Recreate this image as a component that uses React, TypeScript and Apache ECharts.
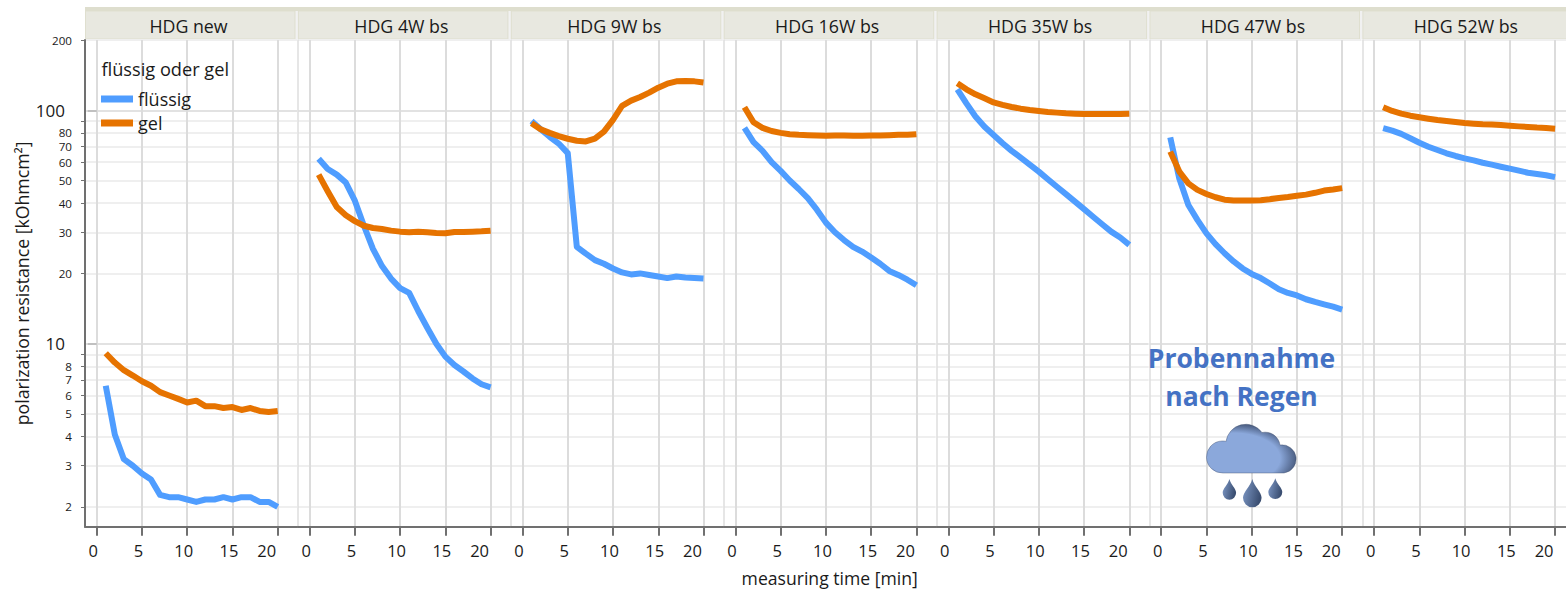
import React, { useEffect, useRef } from "react";
import * as echarts from "echarts";

const panelNames = ["HDG new", "HDG 4W bs", "HDG 9W bs", "HDG 16W bs", "HDG 35W bs", "HDG 47W bs", "HDG 52W bs"];
const times = [1,2,3,4,5,6,7,8,9,10,11,12,13,14,15,16,17,18,19,20];

const liquid0 = [6.6,4.08,3.2,3.0,2.78,2.62,2.25,2.2,2.2,2.15,2.1,2.15,2.15,2.2,2.15,2.2,2.2,2.1,2.1,2.0];
const liquid1 = [62,56,53,49,41,32,25.5,21.5,19,17.3,16.5,13.8,11.7,10,8.8,8.1,7.6,7.1,6.7,6.5];
const liquid2 = [90,83,77,72,65.5,26,24.3,22.8,22,21,20.2,19.8,20,19.7,19.4,19.1,19.4,19.2,19.1,19];
const liquid3 = [84,73,67,60,55,50,46,42,37.5,33,30,27.8,26,24.8,23.4,22,20.5,19.7,18.8,17.8];
const liquid4 = [123,107,94,85,78.3,72.2,67,62.7,58.5,54.6,50.6,47,43.7,40.6,37.7,35,32.5,30.2,28.5,26.5];
const liquid5 = [76.6,51,39.3,33.9,29.7,26.7,24.4,22.5,21,19.9,19.1,18.1,17.1,16.5,16.1,15.5,15.1,14.75,14.4,14];
const liquid6 = [83.8,81.8,79.2,75.9,72.6,69.8,67.6,65.4,63.7,62.2,61,59.6,58.5,57.3,56.2,55.1,54,53.3,52.7,51.7];

const gel0 = [9.1,8.3,7.7,7.3,6.9,6.6,6.2,6.0,5.8,5.6,5.7,5.4,5.4,5.3,5.35,5.2,5.3,5.15,5.1,5.15];
const gel1 = [53,45,38.5,35.5,33.5,32,31.3,31,30.5,30.2,30,30.2,30,29.8,29.7,30.1,30.1,30.2,30.3,30.5];
const gel2 = [88,83,80,77.5,75.5,74,73.5,75.6,81,91,104.4,110,114,119,125,130,133,133.5,133,131.5];
const gel3 = [103,88.8,84,81.5,80,79,78.5,78.2,78,77.8,78,78,77.8,77.8,78,78,78.2,78.5,78.5,79];
const gel4 = [130.5,123,117,112.5,108,105.4,103.3,101.6,100.3,99.3,98.3,97.7,97.1,96.7,96.4,96.3,96.3,96.3,96.5,96.7];
const gel5 = [66.5,54.6,48.6,45.6,43.8,42.4,41.4,41.1,41.1,41.1,41.2,41.6,42.1,42.5,43,43.5,44.3,45.3,45.8,46.4];
const gel6 = [103,99.3,96.8,94.8,93.4,92,90.8,89.9,89.1,88.2,87.6,87.1,86.8,86.5,85.9,85.3,84.8,84.3,84,83.4];

const liquidSets = [liquid0, liquid1, liquid2, liquid3, liquid4, liquid5, liquid6];
const gelSets = [gel0, gel1, gel2, gel3, gel4, gel5, gel6];

const smallTicks = [2,3,4,5,6,7,8,9,20,30,40,50,60,70,80,90,200];
const smallLabels = [2,3,4,5,6,7,8,20,30,40,50,60,70,80,200];
const bigTicks = [10,100];
const xTicks = [0,5,10,15,20];

const FONT = "Open Sans";
const BLUE = "#4F9DFF";
const ORANGE = "#E67300";
const INK = "#1A1A1A";

const STEP = 212.9;
const LEFT0 = 85;
const PX_PER_MIN = 9.05;
const PANEL_W = 212;
const GRID_TOP = 40;
const GRID_BOTTOM_Y = 526.7;
const Y_MIN = 1.644;
const Y_MAX = 200;
const X_MIN = -11.7 / PX_PER_MIN;
const X_MAX = (PANEL_W - 11.7) / PX_PER_MIN;

const CLOUD = "M16 50 A16 16 0 0 1 15 18 C17 18 18 18 19 18.5 A20 20 0 0 1 55 9.5 A15 15 0 0 1 73 22 A14 14 0 0 1 77 50 Z";
const DROP = "M10 0 C12 8 20 14 20 20 A10 10 0 0 1 0 20 C0 14 8 8 10 0 Z";

export default function App() {
  const ref = useRef<HTMLDivElement>(null);
  useEffect(() => {
    document.body.style.margin = "0";
    echarts.graphic.registerShape("cloud", echarts.graphic.extendPath(CLOUD, {}) as any);
    echarts.graphic.registerShape("drop", echarts.graphic.extendPath(DROP, {}) as any);
    const chart = echarts.init(ref.current!, undefined, { renderer: "svg" });
    const grids: any[] = [];
    const xAxes: any[] = [];
    const yAxes: any[] = [];
    const series: any[] = [];
    const graphics: any[] = [
      { type: "rect", shape: { x: LEFT0, y: 11, width: 1481, height: 28 }, style: { fill: "#F1F1F1" }, silent: true },
      { type: "rect", shape: { x: LEFT0, y: 7, width: 1481, height: 4 }, style: { fill: "#DEDECE" }, silent: true },
    ];

    panelNames.forEach((name, i) => {
      const left = LEFT0 + STEP * i;
      grids.push({ left, top: GRID_TOP, width: PANEL_W, height: GRID_BOTTOM_Y - GRID_TOP, outerBoundsMode: "none" });
      graphics.push({
        type: "rect",
        shape: { x: left + 0.5, y: 11, width: 209.5, height: 28 },
        style: { fill: "#E8E8E0", stroke: "#DFDFCF", lineWidth: 1 },
        silent: true,
      });
      graphics.push({
        type: "text",
        x: left + 103.5,
        y: 26,
        style: { text: name, fill: INK, font: `17.8px '${FONT}'`, textAlign: "center", textVerticalAlign: "middle" },
        silent: true,
      });
      const gridIndex = i;
      xAxes.push({
        type: "value",
        gridIndex,
        min: X_MIN,
        max: X_MAX,
        axisLine: { onZero: false, lineStyle: { color: "#707070", width: 2 } },
        axisTick: { customValues: xTicks, length: 9, lineStyle: { color: "#707070", width: 2 } },
        axisLabel: {
          customValues: xTicks,
          margin: 15,
          hideOverlap: false,
          formatter: (v: number) => (v === 20 ? `{far|${v}}` : `{near|${v}}`),
          rich: {
            far: { fontFamily: FONT, fontSize: 16.5, color: INK, padding: [0, 22, 0, 0] },
            near: { fontFamily: FONT, fontSize: 16.5, color: INK, padding: [0, 7, 0, 0] },
          },
        },
        splitLine: { show: true, customValues: xTicks, lineStyle: { color: "#DCDCDC", width: 2 } },
        ...(i === 3
          ? {
              name: "measuring time [min]",
              nameLocation: "middle",
              nameGap: 42,
              nameTextStyle: { fontFamily: FONT, fontSize: 17.6, color: INK },
            }
          : {}),
      });
      const first = i === 0;
      const minorIndex = yAxes.length;
      yAxes.push({
        type: "log",
        gridIndex,
        min: Y_MIN,
        max: Y_MAX,
        axisLine: { show: true, onZero: false, lineStyle: { color: first ? "#707070" : "#DEDEDE", width: first ? 2 : 1.5 } },
        axisTick: { show: first, customValues: smallTicks, length: 4, lineStyle: { color: "#707070", width: 1 } },
        axisLabel: {
          show: first,
          customValues: smallLabels,
          margin: 13,
          fontFamily: FONT,
          fontSize: 11.6,
          color: INK,
          hideOverlap: false,
        },
        splitLine: { show: true, lineStyle: { color: "#EFEFEF", width: 2 } },
        ...(first
          ? {
              name: "polarization resistance [kOhmcm²]",
              nameLocation: "middle",
              nameGap: 54,
              nameTextStyle: { fontFamily: FONT, fontSize: 17.7, color: INK },
            }
          : {}),
      });
      yAxes.push({
        type: "log",
        gridIndex,
        position: "left",
        min: Y_MIN,
        max: Y_MAX,
        axisLine: { show: false },
        axisTick: { show: first, customValues: bigTicks, length: 9, lineStyle: { color: "#B5B5B5", width: 1.5 } },
        axisLabel: {
          show: first,
          customValues: bigTicks,
          margin: 20,
          fontFamily: FONT,
          fontSize: 17,
          color: INK,
          hideOverlap: false,
        },
        splitLine: { show: true, lineStyle: { color: "#D9D9D9", width: 1.5 } },
      });
      const line = (nm: string, vals: number[], color: string, z: number) => ({
        type: "line",
        name: nm,
        xAxisIndex: i,
        yAxisIndex: minorIndex,
        data: times.map((t, k) => [t, vals[k]]),
        showSymbol: false,
        symbol: "none",
        smooth: false,
        z,
        lineStyle: { color, width: 6, cap: "butt", join: "round" },
        itemStyle: { color },
      });
      series.push(line("flüssig", liquidSets[i], BLUE, 5));
      series.push(line("gel", gelSets[i], ORANGE, 6));
    });

    graphics.push(
      { type: "text", x: 101.5, y: 69, z: 20, style: { text: "flüssig oder gel", fill: INK, font: `18.2px '${FONT}'`, textVerticalAlign: "middle" }, silent: true },
      { type: "text", x: 1241.5, y: 358, z: 20, style: { text: "Probennahme", fill: "#4472C4", font: `bold 26.5px '${FONT}'`, textAlign: "center", textVerticalAlign: "middle" }, silent: true },
      { type: "text", x: 1241.5, y: 396, z: 20, style: { text: "nach Regen", fill: "#4472C4", font: `bold 26.5px '${FONT}'`, textAlign: "center", textVerticalAlign: "middle" }, silent: true },
    );
    const cloudFill = () => new echarts.graphic.RadialGradient(0.3, 0.7, 1, [
      { offset: 0, color: "#8BA8DB" }, { offset: 0.52, color: "#8BA8DB" }, { offset: 0.74, color: "#3E4F70" }, { offset: 1, color: "#3E4F70" },
    ]);
    const dropGrad = () => new echarts.graphic.LinearGradient(0, 0, 1, 0.3, [
      { offset: 0, color: "#7F9AC8" }, { offset: 1, color: "#3B4F72" },
    ]);
    graphics.push(
      { type: "cloud", x: 1207, y: 423, z: 20, silent: true, style: { fill: cloudFill(), stroke: "rgba(60,75,105,0.5)", lineWidth: 0.8 } },
      { type: "drop", x: 1222.7, y: 479, scaleX: 0.67, scaleY: 0.69, z: 20, silent: true, style: { fill: dropGrad() } },
      { type: "drop", x: 1243, y: 479, scaleX: 0.93, scaleY: 0.94, z: 20, silent: true, style: { fill: dropGrad() } },
      { type: "drop", x: 1268.3, y: 478.3, scaleX: 0.7, scaleY: 0.69, z: 20, silent: true, style: { fill: dropGrad() } },
    );

    chart.setOption({
      animation: false,
      backgroundColor: "#FFFFFF",
      grid: grids,
      xAxis: xAxes,
      yAxis: yAxes,
      series,
      graphic: { elements: graphics },
      legend: {
        left: 101,
        top: 90,
        padding: 0,
        orient: "vertical",
        itemWidth: 32,
        itemHeight: 7,
        itemGap: 6,
        icon: "rect",
        data: ["flüssig", "gel"],
        selectedMode: false,
        textStyle: { fontFamily: FONT, fontSize: 18, color: INK },
        z: 20,
      },
    });
    return () => chart.dispose();
  }, []);
  return <div ref={ref} style={{ width: 1566, height: 589 }} />;
}
